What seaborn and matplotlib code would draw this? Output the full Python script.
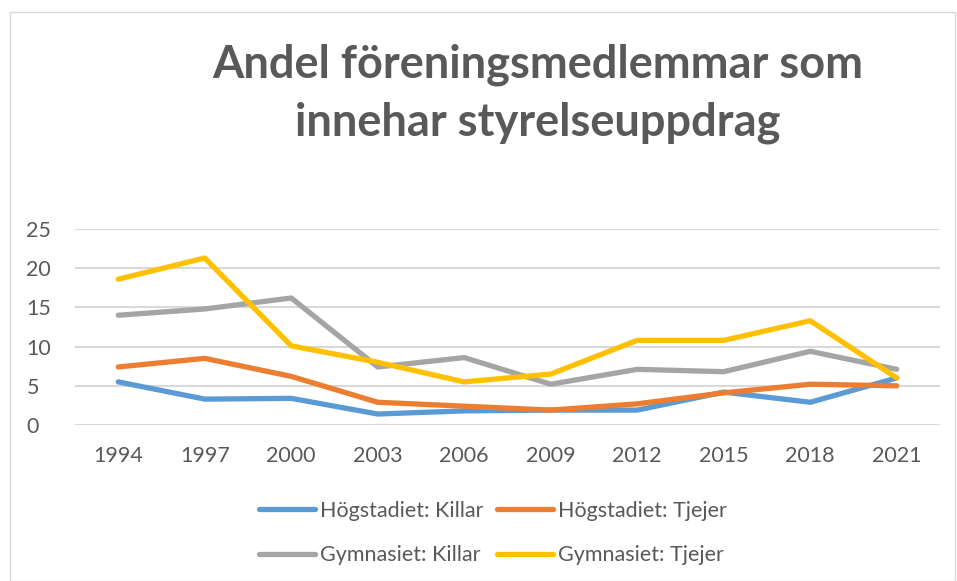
import matplotlib
matplotlib.use("Agg")
import matplotlib.pyplot as plt
import seaborn as sns
import pandas as pd
from matplotlib.patches import Rectangle

years = [1994, 1997, 2000, 2003, 2006, 2009, 2012, 2015, 2018, 2021]
hog_killar = [5.5, 3.3, 3.4, 1.4, 1.8, 1.9, 1.9, 4.2, 2.9, 6.0]
hog_tjejer = [7.4, 8.5, 6.2, 2.9, 2.4, 1.9, 2.7, 4.1, 5.2, 5.0]
gym_killar = [14.0, 14.8, 16.2, 7.4, 8.6, 5.2, 7.1, 6.8, 9.4, 7.1]
gym_tjejer = [18.6, 21.3, 10.1, 8.0, 5.5, 6.5, 10.8, 10.8, 13.3, 6.0]
series_names = ["Högstadiet: Killar", "Högstadiet: Tjejer",
                "Gymnasiet: Killar", "Gymnasiet: Tjejer"]
colors = ["#5B9BD5", "#ED7D31", "#A5A5A5", "#FFC000"]
title = "Andel föreningsmedlemmar som\ninnehar styrelseuppdrag"
yticks = [0, 5, 10, 15, 20, 25]

rows = []
for name, vals in zip(series_names, [hog_killar, hog_tjejer, gym_killar, gym_tjejer]):
    for y, v in zip(years, vals):
        rows.append({"År": y, "Andel": v, "Grupp": name})
df = pd.DataFrame(rows)

sns.set_theme(style="white")
plt.rcParams["font.family"] = ["Lato", "DejaVu Sans"]
text_color = "#595959"

fig = plt.figure(figsize=(9.57, 5.81), dpi=100)
ax = fig.add_axes([75/957, 1-425/581, (940-75)/957, (425-229)/581])

sns.lineplot(data=df, x="År", y="Andel", hue="Grupp", hue_order=series_names,
             palette=colors, linewidth=3.8, ax=ax, legend=True)
for line in ax.get_lines():
    line.set_solid_capstyle("round")
    line.set_solid_joinstyle("round")

ax.set_xlim(1992.5, 2022.5)
ax.set_ylim(0, 25)
ax.set_xticks(years)
ax.set_xticklabels([str(y) for y in years])
ax.set_yticks(yticks)
ax.set_yticklabels([str(t) for t in yticks])
ax.set_xlabel("")
ax.set_ylabel("")
ax.grid(axis="y", color="#D9D9D9", linewidth=1.5)
ax.set_axisbelow(True)
for s in ax.spines.values():
    s.set_visible(False)
ax.tick_params(axis="both", colors=text_color, labelsize=15.5, length=0)
ax.tick_params(axis="x", pad=15)
ax.tick_params(axis="y", pad=35)
for lab in ax.get_yticklabels():
    lab.set_horizontalalignment("left")

handles, labels = ax.get_legend_handles_labels()
ax.legend_.remove()
order = [0, 2, 1, 3]
leg = fig.legend([handles[i] for i in order], [labels[i] for i in order],
                 loc="center", bbox_to_anchor=(493/957, 1-533/581),
                 ncol=2, frameon=False, fontsize=15.5, handlelength=2.6,
                 handletextpad=0.25, columnspacing=0.6, labelspacing=1.15)
for t in leg.get_texts():
    t.set_color(text_color)
for h in leg.get_lines():
    h.set_linewidth(3.8)
    h.set_solid_capstyle("round")

fig.text(538/957, 1-94/581, title, ha="center", va="center", fontsize=32.5,
         fontweight="bold", color=text_color, linespacing=1.45)

fig.patches.append(Rectangle((10/957, 0), 945/957, 1-12/581, transform=fig.transFigure,
                             fill=False, edgecolor="#D9D9D9", linewidth=1.0))

fig.savefig("out.png", dpi=100)
